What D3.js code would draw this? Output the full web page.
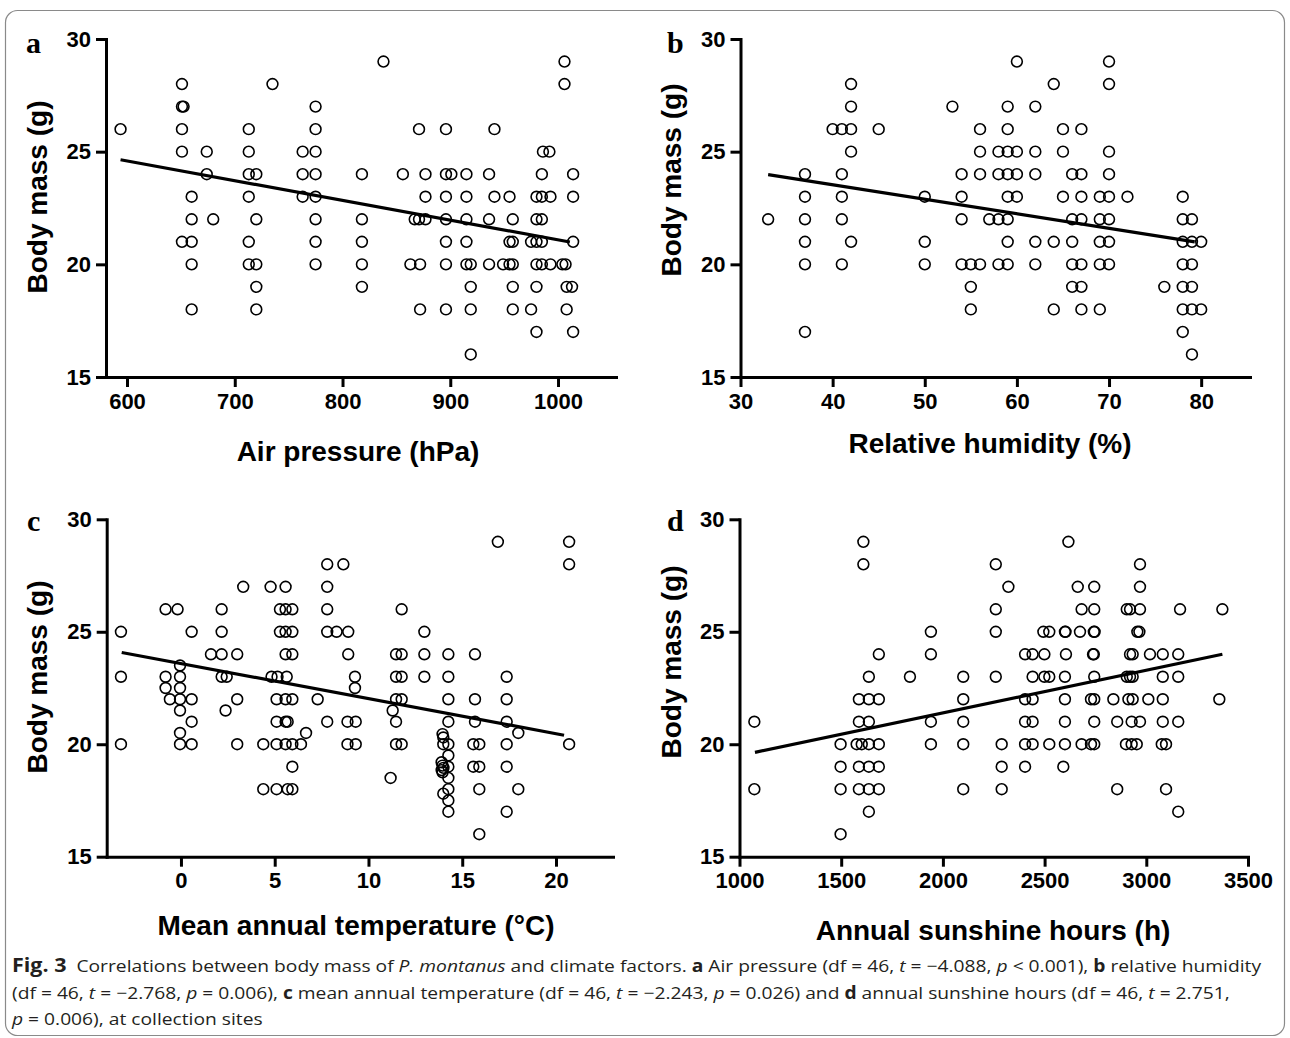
<!DOCTYPE html>
<html><head><meta charset="utf-8">
<script src="https://cdn.jsdelivr.net/npm/d3@7"></script>
<style>body{margin:0;background:#fff}svg{display:block}</style>
</head><body>
<svg id="chart" width="1290" height="1038"></svg>
<script>
// ---------- DATA ----------
const yTicks = [15, 20, 25, 30];
const yDomain = [15, 30];
const ticksA = [600, 700, 800, 900, 1000];
const ticksB = [30, 40, 50, 60, 70, 80];
const ticksC = [0, 5, 10, 15, 20];
const ticksD = [1000, 1500, 2000, 2500, 3000, 3500];
const xTitles = ["Air pressure (hPa)", "Relative humidity (%)", "Mean annual temperature (°C)", "Annual sunshine hours (h)"];
const yTitle = "Body mass (g)";
const panelLetters = ["a", "b", "c", "d"];

// panel a: [air pressure hPa, body mass g]
const pointsA = [
 [838,29],[1006,29],
 [651,28],[735,28],[1006,28],
 [651,27],[652.5,27],[775,27],
 [594,26],[651,26],[713,26],[775,26],[871,26],[896,26],[941,26],
 [651,25],[674,25],[713,25],[763,25],[775,25],[986,25],[992,25],
 [674,24],[713,24],[720,24],[763,24],[775,24],[818,24],[856,24],[877,24],[896,24],[901,24],[915,24],[936,24],[985,24],[1014,24],
 [660,23],[713,23],[763,23],[775,23],[877,23],[896,23],[915,23],[941,23],[955,23],[980,23],[985,23],[993,23],[1014,23],
 [660,22],[680,22],[720,22],[775,22],[818,22],[867,22],[871,22],[877,22],[896,22],[915,22],[936,22],[958,22],[980,22],[985,22],
 [651,21],[660,21],[713,21],[775,21],[818,21],[896,21],[915,21],[955,21],[958,21],[975,21],[980,21],[985,21],[1014,21],
 [660,20],[713,20],[720,20],[775,20],[818,20],[863,20],[872,20],[896,20],[915,20],[919,20],[936,20],[949,20],[955,20],[958,20],[980,20],[985,20],[993,20],[1004,20],[1007,20],
 [720,19],[818,19],[919,19],[958,19],[980,19],[1008,19],[1013,19],
 [660,18],[720,18],[872,18],[896,18],[919,18],[958,18],[975,18],[1008,18],
 [980,17],[1014,17],
 [919,16]
];
const fitA = [[594, 24.64], [1011, 20.99]];

// panel b: [relative humidity %, body mass g]
const pointsB = [
 [60,29],[70,29],
 [42,28],[64,28],[70,28],
 [42,27],[53,27],[59,27],[62,27],
 [40,26],[41,26],[42,26],[45,26],[56,26],[59,26],[65,26],[67,26],
 [42,25],[56,25],[58,25],[59,25],[60,25],[62,25],[65,25],[70,25],
 [37,24],[41,24],[54,24],[56,24],[58,24],[59,24],[60,24],[62,24],[66,24],[67,24],[70,24],
 [37,23],[41,23],[50,23],[54,23],[59,23],[60,23],[65,23],[67,23],[69,23],[70,23],[72,23],[78,23],
 [33,22],[37,22],[41,22],[54,22],[57,22],[58,22],[59,22],[66,22],[67,22],[69,22],[70,22],[78,22],[79,22],
 [37,21],[42,21],[50,21],[59,21],[62,21],[64,21],[66,21],[69,21],[70,21],[78,21],[79,21],[80,21],
 [37,20],[41,20],[50,20],[54,20],[55,20],[56,20],[58,20],[59,20],[62,20],[66,20],[67,20],[69,20],[70,20],[78,20],[79,20],
 [55,19],[66,19],[67,19],[76,19],[78,19],[79,19],
 [55,18],[64,18],[67,18],[69,18],[78,18],[79,18],[80,18],
 [37,17],[78,17],
 [79,16]
];
const fitB = [[33, 23.98], [79.3, 21.0]];

// panel c: [mean annual temperature °C, body mass g]
const pointsC = [
 [-3.2,25],[-3.2,23],[-3.2,20],
 [-0.82,26],[-0.82,23],[-0.82,22.5],[-0.59,22],[-0.18,26],
 [-0.05,23.5],[-0.05,23],[-0.05,22.5],[-0.05,22],[-0.05,21.5],[-0.05,20.5],[-0.05,20],
 [0.57,25],[0.57,22],[0.57,21],[0.57,20],
 [1.6,24],[2.17,26],[2.17,25],[2.17,24],[2.17,23],[2.38,21.5],[2.44,23],
 [3.0,24],[3.0,22],[3.0,20],[3.32,27],[4.39,20],[4.39,18],[4.78,27],[4.83,23],
 [5.1,22],[5.1,21],[5.1,20],[5.1,18],[5.15,23],[5.28,26],[5.28,25],
 [5.58,27],[5.58,26],[5.58,25],[5.58,24],[5.58,22],[5.58,21],[5.58,20],[5.64,23],
 [5.69,21],[5.69,18],
 [5.94,26],[5.94,25],[5.94,24],[5.94,22],[5.94,20],[5.94,19],[5.94,18],
 [6.4,20],[6.67,20.5],[7.29,22],
 [7.8,28],[7.8,27],[7.8,26],[7.8,25],[7.8,21],[8.3,25],[8.66,28],
 [8.88,21],[8.88,20],[8.92,25],[8.92,24],[9.28,23],[9.28,22.5],[9.32,21],[9.32,20],
 [11.18,18.5],[11.29,21.5],
 [11.47,24],[11.47,23],[11.47,22],[11.47,21],[11.47,20],
 [11.77,26],[11.77,24],[11.77,23],[11.77,22],[11.77,20],
 [12.98,25],[12.98,24],[12.98,23],
 [13.95,20.45],[13.99,20.3],[13.99,20],[13.99,17.8],
 [13.9,19.2],[13.95,19.05],[14.0,18.95],[13.9,18.85],[13.95,18.75],
 [14.26,24],[14.26,23],[14.26,22],[14.26,21],[14.26,20],[14.26,19.5],[14.26,19],[14.26,18.5],[14.26,18],[14.26,17.5],[14.26,17],
 [15.68,24],[15.68,22],[15.68,21],[15.59,20],[15.59,19],
 [15.91,20],[15.91,19],[15.91,18],[15.91,16],
 [16.9,29],
 [17.37,23],[17.37,22],[17.37,21],[17.37,20],[17.37,19],[17.37,17],
 [17.99,20.5],[17.99,18],
 [20.7,29],[20.7,28],[20.7,20]
];
const fitC = [[-3.16, 24.08], [20.43, 20.4]];

// panel d: [annual sunshine hours h, body mass g]
const pointsD = [
 [1073,21],[1073,18],
 [1497,20],[1497,19],[1497,18],[1497,16],
 [1576,20],[1587,22],[1587,21],[1587,19],[1587,18],[1601,20],[1609,29],[1609,28],
 [1636,23],[1636,22],[1636,21],[1636,20],[1636,19],[1636,18],[1636,17],
 [1685,24],[1685,22],[1685,20],[1685,19],[1685,18],
 [1838,23],[1941,25],[1941,24],[1941,21],[1941,20],
 [2100,23],[2100,22],[2100,21],[2100,20],[2100,18],
 [2260,28],[2260,26],[2260,25],[2260,23],[2289,20],[2289,19],[2289,18],[2322,27],
 [2404,24],[2404,22],[2404,21],[2404,20],[2404,19],
 [2441,24],[2441,23],[2441,22],[2441,21],[2441,20],
 [2494,25],[2499,24],[2499,23],[2523,25],[2523,23],[2523,20],
 [2592,19],[2600,25],[2603,25],[2600,23],[2600,22],[2600,21],[2600,20],[2605,24],[2617,29],
 [2663,27],[2674,25],[2682,26],[2682,20],[2728,22],[2728,20],[2738,24],[2742,24],
 [2744,27],[2744,26],[2742,25],[2746,25],[2744,23],[2744,22],[2744,21],[2744,20],
 [2838,22],[2857,21],[2857,18],[2900,20],[2904,26],[2904,23],[2912,22],
 [2920,26],[2920,24],[2920,23],[2928,21],[2928,20],[2933,24],[2933,23],[2933,22],
 [2953,20],[2956,25],[2966,25],[2969,28],[2969,27],[2969,26],[2969,21],
 [3010,22],[3018,24],[3076,20],[3081,24],[3081,23],[3081,22],[3081,21],[3097,20],[3097,18],
 [3157,24],[3157,23],[3157,21],[3157,17],[3166,26],[3359,22],[3374,26]
];
const fitD = [[1076, 19.64], [3374, 24.0]];

// ---------- LAYOUT ----------
const svg = d3.select("#chart");
const FONT = "'Liberation Sans', Arial, Helvetica, sans-serif";

svg.append("rect").attr("x", 5.5).attr("y", 10.5).attr("width", 1279).attr("height", 1025)
  .attr("rx", 12).attr("fill", "none").attr("stroke", "#8a8a8a").attr("stroke-width", 1.2);

const panels = [
  {pts: pointsA, fit: fitA, ticks: ticksA, xDomain: [580.5, 1053.8], left: 106, right: 616, top: 39, bottom: 377,
   letter: [26, 53], xt: [358, 461], yt: [47, 197]},
  {pts: pointsB, fit: fitB, ticks: ticksB, xDomain: [30, 85.3], left: 740.5, right: 1250, top: 39, bottom: 377,
   letter: [667, 53], xt: [990, 453], yt: [681, 180]},
  {pts: pointsC, fit: fitC, ticks: ticksC, xDomain: [-3.96, 23.04], left: 106.7, right: 613, top: 519.3, bottom: 856.7,
   letter: [27, 531], xt: [356, 935], yt: [47, 677]},
  {pts: pointsD, fit: fitD, ticks: ticksD, xDomain: [1000, 3500], left: 739.5, right: 1248, top: 519.3, bottom: 856.7,
   letter: [667, 531], xt: [993, 940], yt: [681, 662]}
];

panels.forEach((p, i) => {
  const x = d3.scaleLinear().domain(p.xDomain).range([p.left, p.right]);
  const y = d3.scaleLinear().domain(yDomain).range([p.bottom, p.top]);
  const g = svg.append("g");

  const xAxis = g.append("g").attr("transform", `translate(0,${p.bottom})`)
    .call(d3.axisBottom(x).tickValues(p.ticks).tickSize(10).tickSizeOuter(0).tickPadding(6).tickFormat(d3.format("d")));
  const yAxis = g.append("g").attr("transform", `translate(${p.left},0)`)
    .call(d3.axisLeft(y).tickValues(yTicks).tickSize(10).tickSizeOuter(0).tickPadding(5).tickFormat(d3.format("d")));
  [xAxis, yAxis].forEach(a => {
    a.select(".domain").attr("stroke", "#000").attr("stroke-width", 3).attr("stroke-linecap", "square");
    a.selectAll(".tick line").attr("stroke", "#000").attr("stroke-width", 3);
    a.selectAll(".tick text").attr("fill", "#000").style("font-family", FONT)
      .style("font-weight", "bold").style("font-size", "22px");
  });

  g.append("g").selectAll("circle").data(p.pts).join("circle")
    .attr("cx", d => x(d[0])).attr("cy", d => y(d[1])).attr("r", 5.4)
    .attr("fill", "none").attr("stroke", "#000").attr("stroke-width", 1.6);

  g.append("path").datum(p.fit)
    .attr("d", d3.line().x(d => x(d[0])).y(d => y(d[1])))
    .attr("stroke", "#000").attr("stroke-width", 3.2).attr("fill", "none");

  g.append("text").attr("x", p.xt[0]).attr("y", p.xt[1]).attr("text-anchor", "middle")
    .style("font-family", FONT).style("font-weight", "bold").style("font-size", "28px").text(xTitles[i]);
  g.append("text").attr("transform", `translate(${p.yt[0]},${p.yt[1]}) rotate(-90)`).attr("text-anchor", "middle")
    .style("font-family", FONT).style("font-weight", "bold").style("font-size", "28px").text(yTitle);
  g.append("text").attr("x", p.letter[0]).attr("y", p.letter[1])
    .style("font-family", "'Liberation Serif', 'Times New Roman', serif").style("font-weight", "bold")
    .style("font-size", "30px").text(panelLetters[i]);
});

// ---------- CAPTION ----------
const capLines = [
  [["Fig. 3", "b", 19], ["  Correlations between body mass of "], ["P. montanus", "i"], [" and climate factors. "], ["a", "b"],
   [" Air pressure (df = 46, "], ["t", "i"], [" = −4.088, "], ["p", "i"], [" < 0.001), "], ["b", "b"], [" relative humidity"]],
  [["(df = 46, "], ["t", "i"], [" = −2.768, "], ["p", "i"], [" = 0.006), "], ["c", "b"], [" mean annual temperature (df = 46, "],
   ["t", "i"], [" = −2.243, "], ["p", "i"], [" = 0.026) and "], ["d", "b"], [" annual sunshine hours (df = 46, "], ["t", "i"], [" = 2.751,"]],
  [["p", "i"], [" = 0.006), at collection sites"]]
];
const capY = [972, 999, 1025];
const capTexts = capLines.map((line, li) => {
  const t = svg.append("text").attr("x", 0).attr("y", 0)
    .style("font-family", "'Open Sans', 'Noto Sans', sans-serif").style("font-size", "17px")
    .attr("fill", "#231f20").attr("xml:space", "preserve").style("white-space", "pre");
  line.forEach(seg => {
    const ts = t.append("tspan").text(seg[0]);
    if (seg[1] === "b") ts.style("font-weight", "bold");
    if (seg[1] === "i") ts.style("font-style", "italic");
    if (seg[2]) ts.style("font-size", seg[2] + "px");
  });
  return t;
});
const w0 = capTexts[0].node().getComputedTextLength();
const sx = 1250 / w0;
capTexts.forEach((t, i) => t.attr("transform", `translate(12,${capY[i]}) scale(${sx},1)`));
</script>
</body></html>
